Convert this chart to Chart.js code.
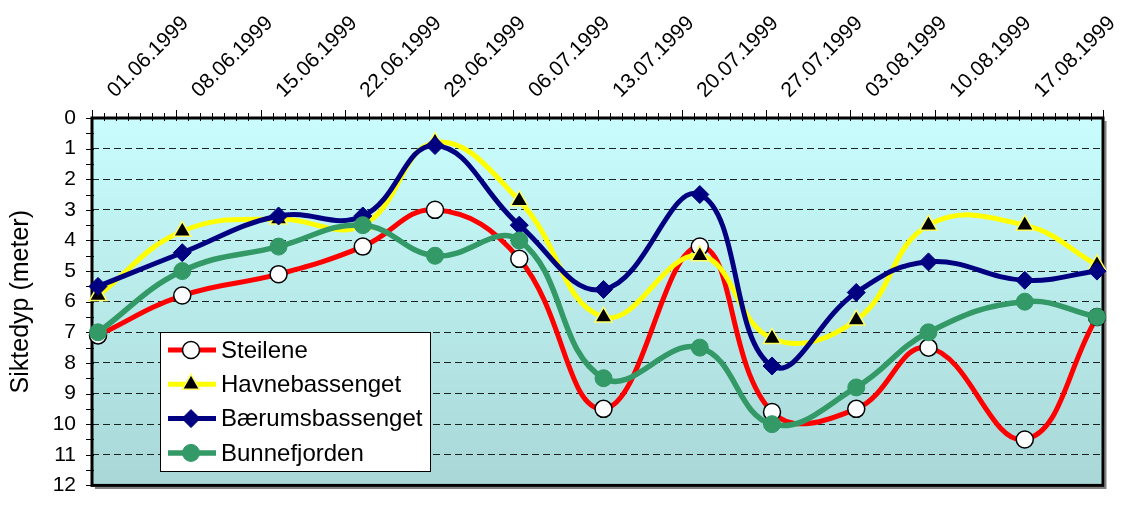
<!DOCTYPE html>
<html lang="no">
<head>
<meta charset="utf-8">
<title>Siktedyp 1999</title>
<script src="https://cdn.jsdelivr.net/npm/chart.js@4.4.0/dist/chart.umd.min.js"></script>
<style>
    html, body { margin: 0; padding: 0; background: #ffffff; }
    #wrap { width: 1126px; height: 514px; }
</style>
</head>
<body>
<div id="wrap"><canvas id="siktChart" width="1126" height="514"></canvas></div>
<script>
// Måledatoer og siktedyp (meter) for hver stasjon
const datoer = ['01.06.1999', '08.06.1999', '16.06.1999', '23.06.1999', '29.06.1999', '06.07.1999',
    '13.07.1999', '21.07.1999', '27.07.1999', '03.08.1999', '09.08.1999', '17.08.1999', '23.08.1999'];
const steilene = [7.1, 5.8, 5.1, 4.2, 3.0, 4.6, 9.5, 4.2, 9.6, 9.5, 7.5, 10.5, 6.5];
const havnebassenget = [5.8, 3.7, 3.3, 3.5, 0.8, 2.7, 6.5, 4.5, 7.2, 6.6, 3.5, 3.5, 4.8];
const baerumsbassenget = [5.5, 4.4, 3.2, 3.2, 0.9, 3.5, 5.6, 2.5, 8.1, 5.7, 4.7, 5.3, 5.0];
const bunnefjorden = [7.0, 5.0, 4.2, 3.5, 4.5, 4.0, 8.5, 7.5, 10.0, 8.8, 7.0, 6.0, 6.5];

// Ukentlige datoer på x-aksen, og aksens start/slutt
const tickDatoer = ['01.06.1999', '08.06.1999', '15.06.1999', '22.06.1999', '29.06.1999', '06.07.1999',
    '13.07.1999', '20.07.1999', '27.07.1999', '03.08.1999', '10.08.1999', '17.08.1999'];
const aksStart = '01.06.1999';
const aksSlutt = '24.08.1999';
const yMin = 0;
const yMax = 12;

document.addEventListener('DOMContentLoaded', function () {
    function tilDato(s) {
        const [d, m, y] = s.split('.').map(Number);
        return Date.UTC(y, m - 1, d);
    }
    function dagNr(s) {
        return Math.round((tilDato(s) - tilDato(aksStart)) / 86400000);
    }
    // punktet ligger midt i dagen
    function punkter(verdier) {
        return datoer.map((d, i) => ({ x: dagNr(d) + 0.5, y: verdier[i] }));
    }

    const FONT = '"Liberation Sans", Arial, sans-serif';
    Chart.defaults.font.family = FONT;
    Chart.defaults.color = '#000';

    const felles = { tension: 0.42, clip: false, fill: false, pointHoverRadius: 8 };

    // Bakgrunn med fargeovergang i plottområdet
    const bakgrunn = {
        id: 'bakgrunn',
        beforeDraw(chart) {
            const { ctx, chartArea: a } = chart;
            const g = ctx.createLinearGradient(0, a.top, 0, a.bottom);
            g.addColorStop(0, '#C9FDFD');
            g.addColorStop(1, '#A9D7D7');
            ctx.save();
            ctx.fillStyle = g;
            ctx.fillRect(a.left, a.top, a.right - a.left, a.bottom - a.top);
            ctx.restore();
        }
    };

    // Ramme rundt plottet og små tikkmerker på aksene
    const ramme = {
        id: 'ramme',
        beforeDatasetsDraw(chart) {
            const { ctx, chartArea: a, scales } = chart;
            ctx.save();
            ctx.strokeStyle = '#000';
            ctx.lineWidth = 1;
            ctx.beginPath();
            const sisteDag = dagNr(aksSlutt);
            for (let d = 0; d <= sisteDag; d++) {
                const x = Math.round(scales.x.getPixelForValue(d)) + 0.5;
                ctx.moveTo(x, a.top - (d % 7 === 0 ? 8 : 5));
                ctx.lineTo(x, a.top + 3);
            }
            for (let v = yMin; v <= yMax; v += 0.5) {
                const y = Math.round(scales.y.getPixelForValue(v)) + 0.5;
                ctx.moveTo(a.left - 6, y);
                ctx.lineTo(a.left + 2, y);
            }
            ctx.stroke();

            ctx.strokeStyle = '#808080';
            ctx.lineWidth = 2;
            ctx.beginPath();
            ctx.moveTo(a.right + 2.5, a.top + 3);
            ctx.lineTo(a.right + 2.5, a.bottom + 2.5);
            ctx.lineTo(a.left + 3, a.bottom + 2.5);
            ctx.stroke();

            ctx.strokeStyle = '#000';
            ctx.lineWidth = 3;
            ctx.strokeRect(a.left, a.top, a.right - a.left, a.bottom - a.top);
            ctx.restore();
        }
    };

    // Tegnforklaring inne i plottet
    const forklaring = {
        id: 'forklaring',
        afterDraw(chart) {
            const { ctx, chartArea: a } = chart;
            const bx = a.left + 68, by = a.top + 214, bw = 270, bh = 139;
            ctx.save();
            ctx.fillStyle = '#fff';
            ctx.fillRect(bx, by, bw, bh);
            ctx.strokeStyle = '#000';
            ctx.lineWidth = 1;
            ctx.strokeRect(bx + 0.5, by + 0.5, bw, bh);

            ctx.font = '24px ' + FONT;
            ctx.textBaseline = 'middle';
            chart.data.datasets.forEach((ds, i) => {
                const y = by + 18 + i * 34.3;
                ctx.strokeStyle = ds.borderColor;
                ctx.lineWidth = ds.borderWidth;
                ctx.beginPath();
                ctx.moveTo(bx + 8, y);
                ctx.lineTo(bx + 56, y);
                ctx.stroke();
                ctx.fillStyle = ds.pointBackgroundColor;
                ctx.strokeStyle = ds.pointBorderColor;
                ctx.lineWidth = ds.pointBorderWidth;
                Chart.helpers.drawPoint(ctx, {
                    pointStyle: ds.pointStyle,
                    radius: ds.pointRadius,
                    rotation: 0,
                    borderWidth: ds.pointBorderWidth
                }, bx + 31, y);
                ctx.fillStyle = '#000';
                ctx.fillText(ds.label, bx + 61, y + 1);
            });
            ctx.restore();
        }
    };

    new Chart(document.getElementById('siktChart'), {
        type: 'line',
        data: {
            datasets: [
                Object.assign({
                    label: 'Steilene', data: punkter(steilene), order: 4,
                    borderColor: '#FF0000', borderWidth: 5,
                    pointStyle: 'circle', pointRadius: 8.5,
                    pointBackgroundColor: '#FFFFFF', pointBorderColor: '#000000', pointBorderWidth: 1.5
                }, felles),
                Object.assign({
                    label: 'Havnebassenget', data: punkter(havnebassenget), order: 3,
                    borderColor: '#FFFF00', borderWidth: 5,
                    pointStyle: 'triangle', pointRadius: 10,
                    pointBackgroundColor: '#000000', pointBorderColor: '#FFFF66', pointBorderWidth: 1.5
                }, felles),
                Object.assign({
                    label: 'Bærumsbassenget', data: punkter(baerumsbassenget), order: 2,
                    borderColor: '#000080', borderWidth: 5,
                    pointStyle: 'rectRot', pointRadius: 9,
                    pointBackgroundColor: '#000080', pointBorderColor: '#000080', pointBorderWidth: 1
                }, felles),
                Object.assign({
                    label: 'Bunnefjorden', data: punkter(bunnefjorden), order: 1,
                    borderColor: '#339966', borderWidth: 5.5,
                    pointStyle: 'circle', pointRadius: 8.5,
                    pointBackgroundColor: '#339966', pointBorderColor: '#339966', pointBorderWidth: 1
                }, felles)
            ]
        },
        options: {
            responsive: false,
            animation: false,
            events: [],
            layout: { padding: { top: 0, left: 0, right: 23, bottom: 14 } },
            plugins: {
                legend: { display: false },
                tooltip: { enabled: false }
            },
            scales: {
                x: {
                    type: 'linear',
                    position: 'top',
                    min: 0,
                    max: dagNr(aksSlutt),
                    grid: { display: false },
                    border: { display: false },
                    ticks: {
                        stepSize: 7,
                        autoSkip: false,
                        minRotation: 45,
                        maxRotation: 45,
                        labelOffset: 37,
                        padding: 7,
                        font: { size: 21 },
                        callback: v => tickDatoer[v / 7] || ''
                    },
                    afterFit: s => { s.height = 118; }
                },
                y: {
                    reverse: true,
                    min: yMin,
                    max: yMax,
                    ticks: { stepSize: 1, font: { size: 21 }, padding: 16 },
                    grid: { color: 'rgba(0,0,0,0.85)', lineWidth: 1, drawTicks: false },
                    border: { display: false, dash: [7, 4] },
                    title: {
                        display: true,
                        text: 'Siktedyp (meter)',
                        font: { size: 25 },
                        padding: { top: 6, bottom: 0 }
                    },
                    afterFit: s => { s.width = 92; }
                }
            }
        },
        plugins: [bakgrunn, ramme, forklaring]
    });
});
</script>
</body>
</html>
